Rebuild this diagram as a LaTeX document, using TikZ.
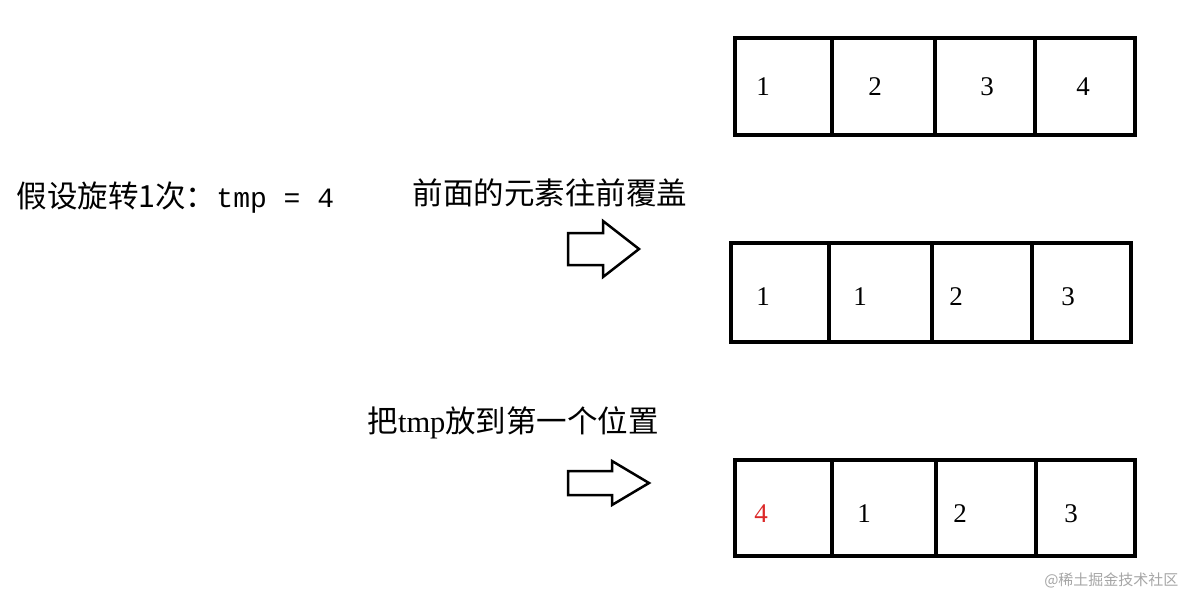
\documentclass[tikz,border=0pt]{standalone}
\usepackage{fontspec}
\setmainfont{Liberation Serif}
\newfontfamily\cjk{Noto Sans CJK SC}
\newfontfamily\monof{Liberation Mono}
\begin{document}
\begin{tikzpicture}[x=1pt,y=-1pt,
  cell/.style={draw=black,line width=3.5pt},
  num/.style={font=\fontsize{27}{27}\selectfont,anchor=center},
  lbl/.style={font=\cjk\fontsize{30.5}{30.5}\selectfont,anchor=west},
  blk/.style={draw=black,line width=2.5pt,line join=miter}]
\useasboundingbox[fill=white] (0,0) rectangle (1199,611);
% row 1
\draw[cell] (735,38) rectangle (1135,135);
\draw[cell] (832,38)--(832,135) (935,38)--(935,135) (1035,38)--(1035,135);
\node[num] (a1) at (763,87) {1};
\node[num] (a2) at (875,87) {2};
\node[num] (a3) at (987,87) {3};
\node[num] (a4) at (1083,87) {4};
% row 2
\draw[cell] (731,243) rectangle (1131,342);
\draw[cell] (829,243)--(829,342) (932,243)--(932,342) (1032,243)--(1032,342);
\node[num] (b1) at (763,297) {1};
\node[num] (b2) at (860,297) {1};
\node[num] (b3) at (956,297) {2};
\node[num] (b4) at (1068,297) {3};
% row 3
\draw[cell] (735,460) rectangle (1135,556);
\draw[cell] (832,460)--(832,556) (936,460)--(936,556) (1036,460)--(1036,556);
\node[num,text={rgb,255:red,220;green,40;blue,40}] (c1) at (761,514) {4};
\node[num] (c2) at (864,514) {1};
\node[num] (c3) at (960,514) {2};
\node[num] (c4) at (1071,514) {3};
% labels
\node[lbl] (t1) at (13,198) {假设旋转1次：{\monof\fontsize{28}{28}\selectfont tmp = 4}};
\node[lbl] (t2) at (409,193) {前面的元素往前覆盖};
\node[lbl] (t3) at (364,423) {把{\rmfamily tmp}放到第一个位置};
% arrows
\draw[blk] (568,233)--(603,233)--(603,221)--(639,249)--(603,277)--(603,265)--(568,265)--cycle;
\draw[blk] (568,471)--(612,471)--(612,461)--(649,483)--(612,505)--(612,495)--(568,495)--cycle;
% watermark
\node[font=\cjk\fontsize{15}{15}\selectfont,text=gray!70,anchor=east] (wm) at (1182,580) {@稀土掘金技术社区};
\end{tikzpicture}
\end{document}
